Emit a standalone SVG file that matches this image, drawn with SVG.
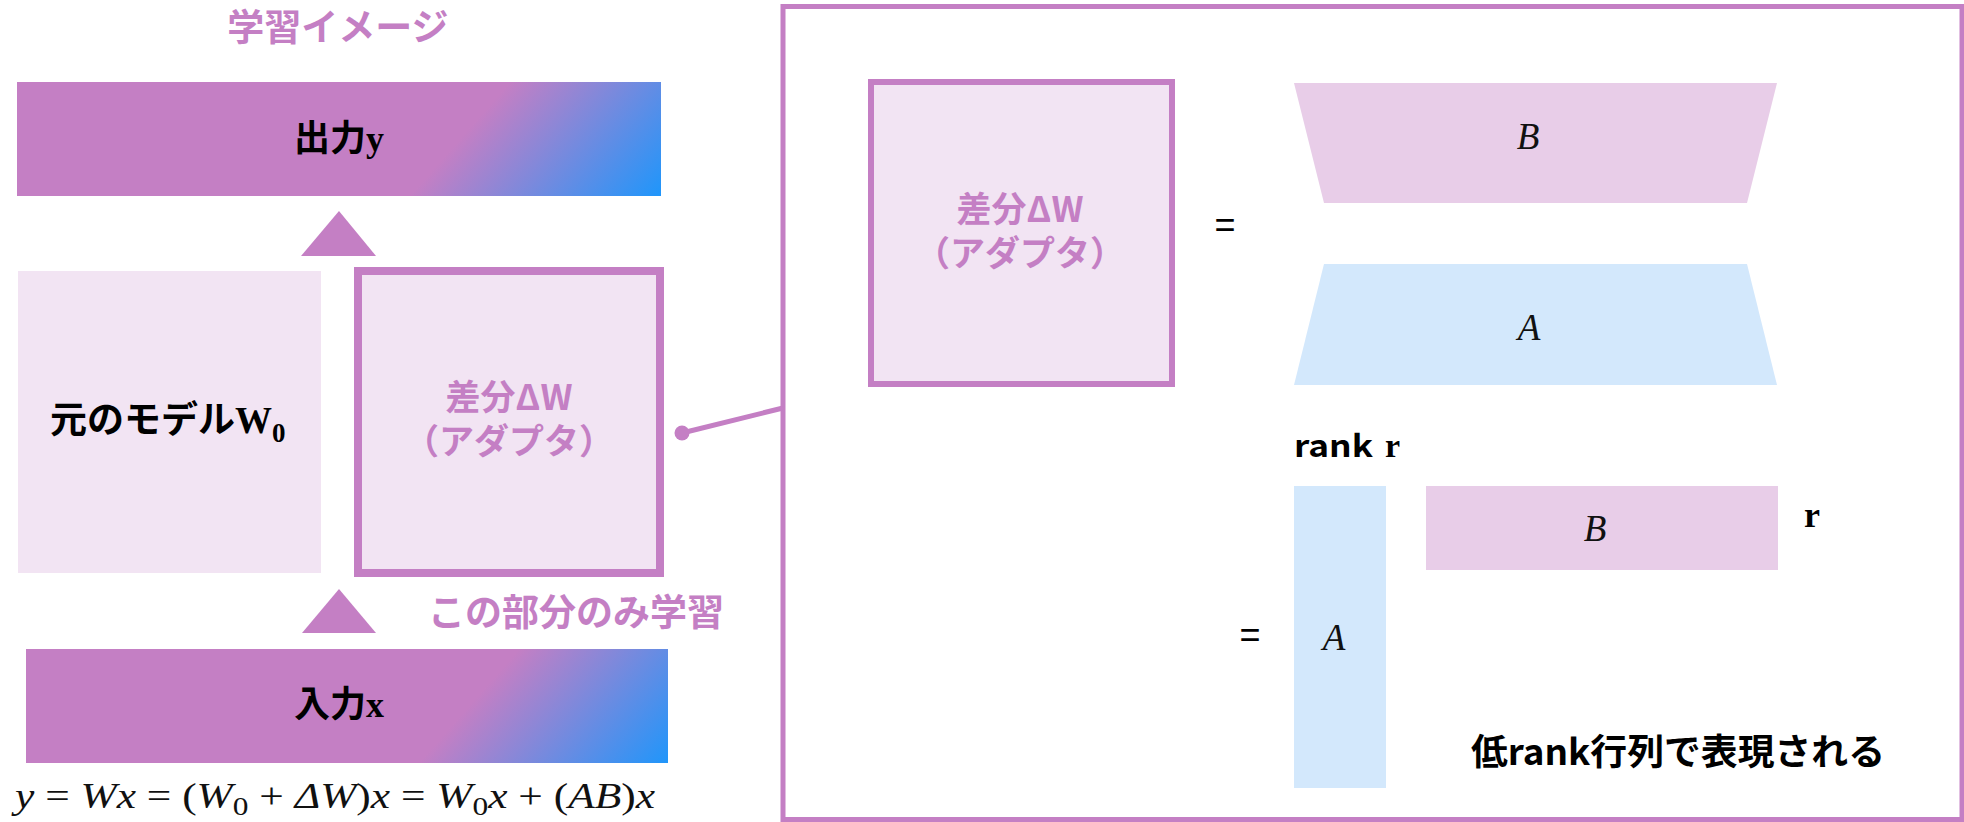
<svg xmlns="http://www.w3.org/2000/svg" width="1964" height="822" viewBox="0 0 1964 822">
  <defs>
    <linearGradient id="gradOut" gradientUnits="userSpaceOnUse" x1="460" y1="139" x2="602" y2="264">
      <stop offset="0" stop-color="#c47fc4"/>
      <stop offset="1" stop-color="#1e96fb"/>
    </linearGradient>
    <linearGradient id="gradIn" gradientUnits="userSpaceOnUse" x1="469" y1="706" x2="611" y2="831">
      <stop offset="0" stop-color="#c47fc4"/>
      <stop offset="1" stop-color="#1e96fb"/>
    </linearGradient>
    <style>
      .jp { font-family: "Noto Sans CJK JP", "Noto Sans", sans-serif; font-weight: 700; }
      .serifb { font-family: "Liberation Serif", serif; font-weight: 700; }
      .math { font-family: "Liberation Serif", serif; font-style: italic; fill: #111; }
      .accent { fill: #c47fc4; }
      .dark { fill: #000; }
      .soft { fill: #f2e4f3; }
      .frame { fill: #f2e4f3; stroke: #c47fc4; }
      .pinkfill { fill: #e8cde8; }
      .bluefill { fill: #d3e8fc; }
      .eq { font-family: "Liberation Sans", sans-serif; font-size: 36px; fill: #000; }
    </style>
  </defs>

  <rect width="1964" height="822" fill="#ffffff"/>

  <!-- heading -->
  <g id="title">
    <text class="jp accent" x="338" y="41" font-size="37" text-anchor="middle">学習イメージ</text>
  </g>

  <!-- output layer -->
  <g id="output-node">
    <rect x="17" y="82" width="644" height="114" fill="url(#gradOut)"/>
    <text class="jp dark" x="339" y="151" font-size="36" text-anchor="middle">出力<tspan class="serifb">y</tspan></text>
  </g>

  <!-- frozen base weights -->
  <g id="base-model-node">
    <rect class="soft" x="18" y="271" width="303" height="302"/>
    <text class="jp dark" x="50" y="433" font-size="37">元のモデル<tspan class="serifb">W</tspan><tspan class="serifb" font-size="27" dy="9">0</tspan></text>
  </g>

  <!-- trainable adapter -->
  <g id="adapter-node">
    <rect class="frame" x="358" y="271" width="302" height="302" stroke-width="8"/>
    <text class="jp accent" font-size="35" text-anchor="middle"><tspan x="509" y="410">差分ΔW</tspan><tspan x="509" y="454">（アダプタ）</tspan></text>
  </g>

  <g id="train-label">
    <text class="jp accent" x="428" y="626" font-size="37">この部分のみ学習</text>
  </g>

  <!-- input layer -->
  <g id="input-node">
    <rect x="26" y="649" width="642" height="114" fill="url(#gradIn)"/>
    <text class="jp dark" x="339" y="717" font-size="36" text-anchor="middle">入力<tspan class="serifb">x</tspan></text>
  </g>

  <!-- update rule -->
  <g id="formula">
    <text class="math" x="15" y="808" font-size="36" textLength="640" lengthAdjust="spacingAndGlyphs" xml:space="preserve"><tspan>y</tspan><tspan font-style="normal"> = </tspan><tspan>Wx</tspan><tspan font-style="normal"> = (</tspan><tspan>W</tspan><tspan font-style="normal" font-size="26" dy="7">0</tspan><tspan font-style="normal" dy="-7"> + </tspan><tspan>ΔW</tspan><tspan font-style="normal">)</tspan><tspan>x</tspan><tspan font-style="normal"> = </tspan><tspan>W</tspan><tspan font-style="normal" font-size="26" dy="7">0</tspan><tspan dy="-7">x</tspan><tspan font-style="normal"> + (</tspan><tspan>AB</tspan><tspan font-style="normal">)</tspan><tspan>x</tspan></text>
  </g>

  <!-- detail panel -->
  <g id="detail-panel">
    <rect x="783" y="6.5" width="1179" height="813" fill="none" stroke="#c47fc4" stroke-width="5"/>
  </g>

  <g id="detail-adapter-node">
    <rect class="frame" x="871" y="82" width="301" height="302" stroke-width="6"/>
    <text class="jp accent" font-size="35" text-anchor="middle"><tspan x="1020" y="222">差分ΔW</tspan><tspan x="1020" y="266">（アダプタ）</tspan></text>
  </g>

  <g id="equals-top">
    <text class="eq" x="1225" y="237" text-anchor="middle">=</text>
  </g>

  <g id="factor-b-trapezoid">
    <polygon class="pinkfill" points="1294,83 1777,83 1747,203 1324,203"/>
    <text class="math" x="1528" y="149" font-size="37" text-anchor="middle">B</text>
  </g>

  <g id="factor-a-trapezoid">
    <polygon class="bluefill" points="1324,264 1747,264 1777,385 1294,385"/>
    <text class="math" x="1529" y="340" font-size="37" text-anchor="middle">A</text>
  </g>

  <g id="rank-label">
    <text class="jp dark" x="1294" y="457" font-size="31"><tspan textLength="79" lengthAdjust="spacingAndGlyphs">rank</tspan></text>
    <text class="serifb dark" x="1385" y="457" font-size="34">r</text>
  </g>

  <g id="equals-bottom">
    <text class="eq" x="1250" y="647" text-anchor="middle">=</text>
  </g>

  <g id="matrix-a">
    <rect class="bluefill" x="1294" y="486" width="92" height="302"/>
    <text class="math" x="1334" y="650" font-size="37" text-anchor="middle">A</text>
  </g>

  <g id="matrix-b">
    <rect class="pinkfill" x="1426" y="486" width="352" height="84"/>
    <text class="math" x="1595" y="541" font-size="37" text-anchor="middle">B</text>
  </g>

  <g id="r-label">
    <text class="serifb dark" x="1804" y="527" font-size="36">r</text>
  </g>

  <g id="caption">
    <text class="jp dark" x="1471" y="765" font-size="36" textLength="414" lengthAdjust="spacingAndGlyphs">低rank行列で表現される</text>
  </g>

  <!-- connectors -->
  <g id="connectors" fill="#c47fc4" stroke="#c47fc4">
    <polygon points="339,211 376,256 301,256" stroke="none"/>
    <polygon points="339,589 376,633 302,633" stroke="none"/>
    <line x1="682" y1="433" x2="783" y2="408" stroke-width="5"/>
    <circle cx="682" cy="433" r="7.5" stroke="none"/>
  </g>
</svg>
